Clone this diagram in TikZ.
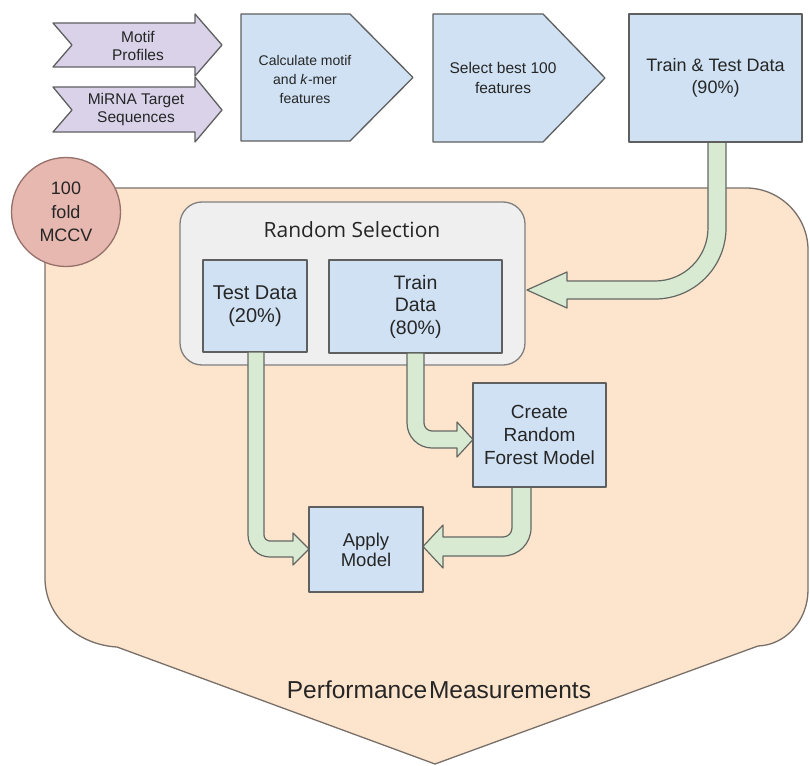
\documentclass[tikz,border=0pt]{standalone}
\usepackage{fontspec}
\setmainfont{Liberation Sans}
\newfontfamily\osans{Open Sans}
\definecolor{bordergray}{RGB}{95,95,95}
\definecolor{textgray}{RGB}{38,38,38}
\definecolor{boxblue}{RGB}{207,225,243}
\definecolor{chevpurple}{RGB}{217,210,233}
\definecolor{peach}{RGB}{252,228,205}
\definecolor{peachedge}{RGB}{120,112,104}
\definecolor{selgray}{RGB}{239,239,239}
\definecolor{seledge}{RGB}{128,128,128}
\definecolor{arrowgreen}{RGB}{217,234,211}
\definecolor{arrowedge}{RGB}{100,104,98}
\definecolor{salmon}{RGB}{230,184,175}
\definecolor{salmonedge}{RGB}{150,112,106}
\begin{document}
\begin{tikzpicture}[x=1pt,y=-1pt,
  edge/.style={draw=bordergray, line width=1.3pt, line join=round},
  box/.style={edge, fill=boxblue, text=textgray, align=center, inner sep=0pt},
  txt/.style={text=textgray, align=center, inner sep=0pt},
  greenarrow/.style={draw=arrowedge, fill=arrowgreen, line width=1.2pt, line join=round},
  chevron/.style={edge, fill=chevpurple},
  pentabox/.style={edge, fill=boxblue}]
\useasboundingbox (0,0) rectangle (810,765);

% big peach shape
\path[draw=peachedge, fill=peach, line width=1.3pt, line join=round]
  (45,250) .. controls (45,216) and (72,188) .. (106,188)
  -- (746,188) .. controls (780,188) and (808,216) .. (808,250)
  -- (808,590) .. controls (808,620) and (786,645) .. (758,646)
  -- (435,764) -- (117,647)
  .. controls (80,645) and (45,618) .. (45,578) -- cycle;

% random selection container
\node[draw=seledge, fill=selgray, line width=1.3pt, rounded corners=22pt,
      minimum width=345pt, minimum height=163pt, inner sep=0pt] (rs) at (352.5,283.5) {};
\node[txt, font=\osans\fontsize{21}{24}\selectfont] (rstitle) at (352,230) {Random Selection};

% green arrow from Train & Test data to the random selection
\path[greenarrow] (708,142) -- (708,228) .. controls (708,257.3) and (684.3,281) .. (655,281)
  -- (567,281) -- (567,272) -- (527,290) -- (567,308) -- (567,299) -- (655,299)
  .. controls (694.2,299) and (726,267.2) .. (726,228) -- (726,142) -- cycle;

% test / train boxes
\node[box, minimum width=104pt, minimum height=92pt, font=\fontsize{20}{23}\selectfont] (test) at (255,306) {Test Data\\(20\%)};
\node[box, minimum width=173pt, minimum height=93pt, font=\fontsize{19.5}{22.5}\selectfont] (train) at (415.5,306.5) {Train\\Data\\(80\%)};

% arrow train -> create
\path[greenarrow] (407,353) -- (407,423) .. controls (407,436.8) and (418.2,448) .. (432,448)
  -- (457,448) -- (457,457) -- (473,439.5) -- (457,422) -- (457,431) -- (432,431)
  .. controls (427.6,431) and (424,427.4) .. (424,423) -- (424,353) -- cycle;

% arrow test -> apply
\path[greenarrow] (248,352) -- (248,535) .. controls (248,547.1) and (257.9,557) .. (270,557)
  -- (293,557) -- (293,565) -- (309,549) -- (293,533) -- (293,541) -- (270,541)
  .. controls (266.7,541) and (264,538.3) .. (264,535) -- (264,352) -- cycle;

% arrow create -> apply
\path[greenarrow] (512,487) -- (512,528) .. controls (512,533) and (508,537) .. (503,537)
  -- (443,537) -- (443,525) -- (423,546.5) -- (443,568) -- (443,556) -- (503,556)
  .. controls (518.5,556) and (531,543.5) .. (531,528) -- (531,487) -- cycle;

\node[box, minimum width=133pt, minimum height=104pt, font=\fontsize{19}{23}\selectfont] (create) at (539.5,435) {Create\\Random\\Forest Model};
\node[box, minimum width=114pt, minimum height=85pt, font=\fontsize{18.5}{20}\selectfont] (apply) at (366,549.5) {Apply\\Model};

% circle
\node[circle, draw=salmonedge, fill=salmon, line width=1.3pt, minimum size=109pt, inner sep=0pt,
      text=textgray, align=center, font=\fontsize{18}{23.5}\selectfont] (mccv) at (66,212) {100\\fold\\MCCV};

% performance
\node[txt, font=\fontsize{24.5}{28}\selectfont] (perf) at (439,690) {Performance\hspace{-0.2em} Measurements};

% top row
\path[chevron] (53,23) -- (195,23) -- (195,14) -- (222,45) -- (195,76) -- (195,67) -- (53,67) -- (72,45) -- cycle;
\path[chevron] (53,87) -- (195,87) -- (195,77) -- (222,110) -- (195,142) -- (195,132) -- (53,132) -- (72,110) -- cycle;
\node[txt, font=\fontsize{15.5}{18}\selectfont] (motif) at (138,46) {Motif\\Profiles};
\node[txt, font=\fontsize{15.5}{18}\selectfont] (mirna) at (136,109.5) {MiRNA Target\\Sequences};

\path[pentabox] (241,14) -- (350,14) -- (413,77.5) -- (350,141) -- (241,141) -- cycle;
\node[txt, font=\fontsize{14}{19}\selectfont] (calc) at (305,79) {Calculate motif\\and \textit{k}-mer\\features};

\path[pentabox] (433,14) -- (543,14) -- (605,78) -- (543,142) -- (433,142) -- cycle;
\node[txt, font=\fontsize{15.5}{20}\selectfont] (select) at (503,78) {Select best 100\\features};

\node[box, minimum width=173pt, minimum height=128pt, font=\fontsize{18}{22}\selectfont] (tt) at (715.5,78) {Train \& Test Data\\(90\%)};
\end{tikzpicture}
\end{document}
